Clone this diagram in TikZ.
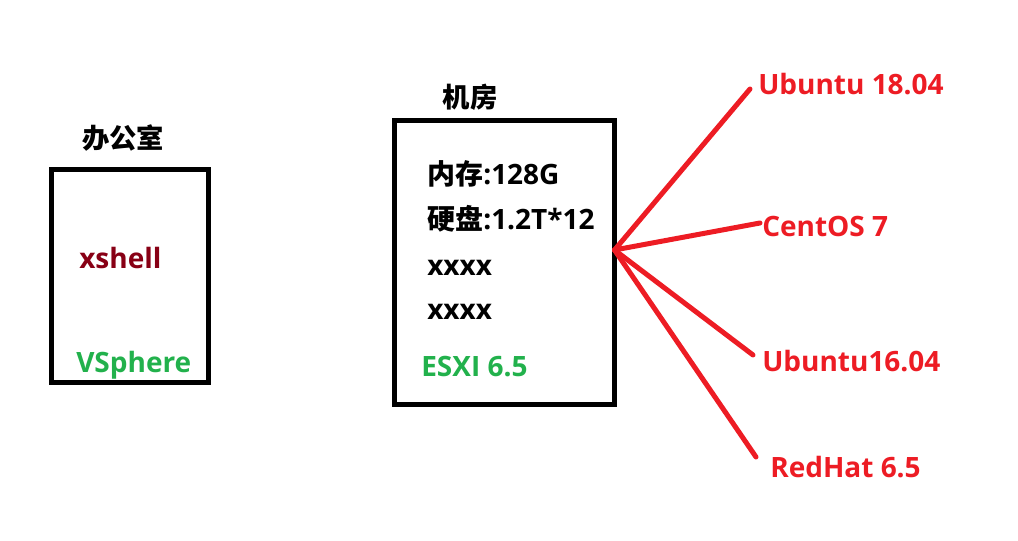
\documentclass[tikz,border=0pt]{standalone}
\usepackage{fontspec}
\setmainfont{Open Sans}
\newfontfamily\cjk{Noto Sans CJK SC}
\usetikzlibrary{positioning}
\definecolor{paintred}{RGB}{237,28,36}
\definecolor{paintgreen}{RGB}{34,177,76}
\definecolor{darkred}{RGB}{136,0,21}
\begin{document}
\begin{tikzpicture}[
  x=0.75pt,y=-0.75pt,
  room/.style={draw=black,line width=3.75pt,inner sep=0},
  title/.style={inner sep=0,font=\cjk\bfseries\fontsize{20.5}{23}\selectfont},
  info/.style={inner sep=0,anchor=west,font=\bfseries\fontsize{21}{25}\selectfont},
  osname/.style={inner sep=0,anchor=west,text=paintred,font=\bfseries\fontsize{21}{25}\selectfont},
  link/.style={draw=paintred,line width=3.75pt,line cap=round}
  ]
  \useasboundingbox (0,0) rectangle (1018,541);
  % 
  % Rooms
  % 
  \node(office)[room,minimum width=117.4pt,minimum height=159.4pt] at (130,276) {};
  \node(server)[room,minimum width=165pt,minimum height=213pt] at (504.5,262.5) {};
  \node(officetitle)[title] at (123,138) {办公室};
  \node(servertitle)[title] at (470,97) {机房};
  % 
  % Office contents
  % 
  \node(xshell) [info,text=darkred]    at (79,258) {xshell};
  \node(vsphere)[info,text=paintgreen] at (76,365) {VSphere};
  % 
  % Server contents
  % 
  \node(mem)  [info] at (427,174) {{\cjk\bfseries 内存}:128G};
  \node(disk) [info] at (427,219) {{\cjk\bfseries 硬盘}:1.2T*12};
  \node(xa)   [info] at (427,268) {xxxx};
  \node(xb)   [info] at (427,312) {xxxx};
  \node(esxi) [info,text=paintgreen] at (421,367) {ESXI 6.5};
  % 
  % Guest systems
  % 
  \node(ubA)   [osname] at (758,84)  {Ubuntu 18.04};
  \node(centos)[osname] at (762,226) {CentOS 7};
  \node(ubB)   [osname] at (762,361) {Ubuntu16.04};
  \node(redhat)[osname] at (770,467) {RedHat 6.5};
  % 
  % Links
  % 
  \coordinate(hub) at (614.5,250);
  \draw[link] (hub) -- ([shift={(-8,5)}]ubA.west);
  \draw[link] (hub) -- ([shift={(-2,-3)}]centos.west);
  \draw[link] (hub) -- ([shift={(-9,-6)}]ubB.west);
  \draw[link] (hub) -- ([shift={(-14,-10)}]redhat.west);
\end{tikzpicture}
\end{document}
